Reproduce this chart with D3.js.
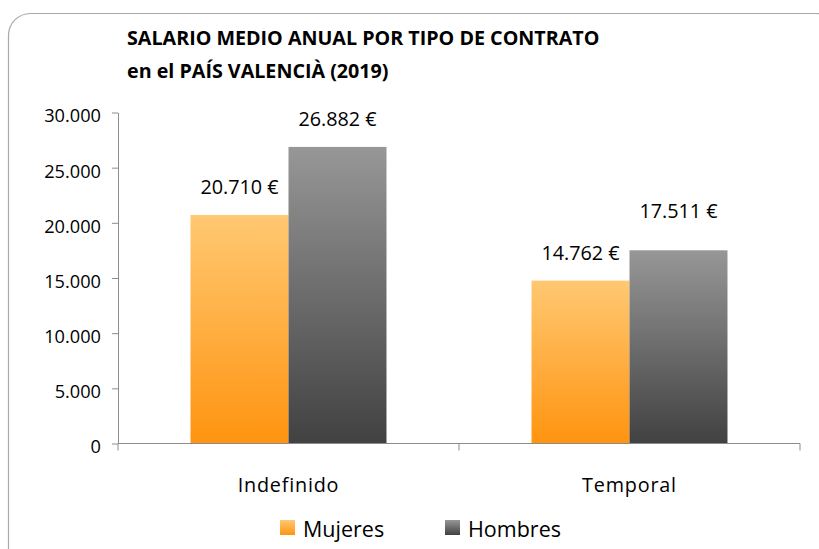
<!DOCTYPE html>
<html>
<head>
<meta charset="utf-8">
<script src="https://cdn.jsdelivr.net/npm/d3@7/dist/d3.min.js"></script>
<style>
  html, body { margin: 0; padding: 0; background: #fff; }
  svg { display: block; font-family: "Open Sans", "Noto Sans", sans-serif; }
</style>
</head>
<body>
<svg id="chart" width="819" height="549"></svg>
<script>
// ---- data ----
const categories = ['Indefinido', 'Temporal'];
const series = ['Mujeres', 'Hombres'];
const mujeres = [20710, 14762];
const hombres = [26882, 17511];
const yTicks = [0, 5000, 10000, 15000, 20000, 25000, 30000];
const titleLines = ['SALARIO MEDIO ANUAL POR TIPO DE CONTRATO', 'en el PAÍS VALENCIÀ (2019)'];

// ---- layout ----
const W = 819, H = 549;
const plot = { left: 118, right: 800, top: 112.5, bottom: 443.5 };
// Excel nudged one label higher than the others
const labelLift = { 'Temporal|Hombres': 12 };

const svg = d3.select('#chart');
const fmt = d3.formatLocale({ decimal: ',', thousands: '.', grouping: [3], currency: ['', ' €'] });
const fmtNum = fmt.format(',d');

const defs = svg.append('defs');
const gradients = {
  Mujeres: ['#ffc872', '#ff9410'],
  Hombres: ['#979797', '#414141'],
};
Object.entries(gradients).forEach(([name, [top, bottom]]) => {
  const g = defs.append('linearGradient')
    .attr('id', 'grad-' + name)
    .attr('x1', 0).attr('y1', 0).attr('x2', 0).attr('y2', 1);
  g.append('stop').attr('offset', '0%').attr('stop-color', top);
  g.append('stop').attr('offset', '100%').attr('stop-color', bottom);
});

// outer rounded frame
svg.append('rect')
  .attr('x', 8.5).attr('y', 13.5)
  .attr('width', 830).attr('height', 560)
  .attr('rx', 22).attr('ry', 22)
  .attr('fill', 'none')
  .attr('stroke', '#a9a9a9').attr('stroke-width', 1.2);

// title
svg.append('g').selectAll('text')
  .data(titleLines)
  .enter().append('text')
  .attr('x', 127)
  .attr('y', (d, i) => 45 + i * 32.5)
  .attr('font-size', '19.7px')
  .attr('font-weight', 700)
  .attr('fill', '#000')
  .text(d => d);

// scales
const x0 = d3.scaleBand().domain(categories).range([plot.left, plot.right]).padding(0);
const x1 = d3.scaleBand().domain(series).range([0, x0.bandwidth()]).paddingInner(0).paddingOuter(0.74);
const y = d3.scaleLinear().domain([0, 30000]).range([plot.bottom, plot.top]);

const rows = categories.map((c, i) => ({ category: c, Mujeres: mujeres[i], Hombres: hombres[i] }));

// y axis
const yAxis = svg.append('g')
  .attr('transform', `translate(${plot.left},0)`)
  .call(d3.axisLeft(y).tickValues(yTicks).tickSize(6).tickSizeOuter(0).tickPadding(11).tickFormat(d => fmtNum(d)));
yAxis.select('.domain').attr('stroke', '#8c8c8c');
yAxis.selectAll('.tick line').attr('stroke', '#8c8c8c');
yAxis.selectAll('.tick text')
  .attr('font-size', '18.2px')
  .attr('font-family', '"Open Sans", sans-serif')
  .attr('fill', '#000')
  .attr('dy', '0.52em');

// bars
const groups = svg.append('g').selectAll('g')
  .data(rows)
  .enter().append('g')
  .attr('transform', d => `translate(${x0(d.category)},0)`);

groups.selectAll('rect')
  .data(d => series.map(s => ({ category: d.category, key: s, value: d[s] })))
  .enter().append('rect')
  .attr('x', d => x1(d.key))
  .attr('y', d => y(d.value))
  .attr('width', x1.bandwidth())
  .attr('height', d => y(0) - y(d.value))
  .attr('fill', d => `url(#grad-${d.key})`);

groups.selectAll('text.val')
  .data(d => series.map(s => ({ category: d.category, key: s, value: d[s] })))
  .enter().append('text')
  .attr('class', 'val')
  .attr('x', d => x1(d.key) + x1.bandwidth() / 2)
  .attr('y', d => y(d.value) - 20.5 - (labelLift[d.category + '|' + d.key] || 0))
  .attr('text-anchor', 'middle')
  .attr('font-size', '19.8px')
  .attr('fill', '#000')
  .text(d => fmtNum(d.value) + ' €');

// x axis (ticks at category boundaries)
const xAxis = svg.append('g');
xAxis.append('line')
  .attr('x1', plot.left).attr('x2', plot.right)
  .attr('y1', plot.bottom).attr('y2', plot.bottom)
  .attr('stroke', '#8c8c8c');
const bounds = categories.map(c => x0(c)).concat([plot.right]);
xAxis.selectAll('line.tk')
  .data(bounds)
  .enter().append('line')
  .attr('class', 'tk')
  .attr('x1', d => d).attr('x2', d => d)
  .attr('y1', plot.bottom).attr('y2', plot.bottom + 7)
  .attr('stroke', '#8c8c8c');
xAxis.selectAll('text')
  .data(categories)
  .enter().append('text')
  .attr('x', d => x0(d) + x0.bandwidth() / 2)
  .attr('y', 491.5)
  .attr('text-anchor', 'middle')
  .attr('font-size', '19.8px')
  .attr('letter-spacing', '0.8px')
  .attr('fill', '#000')
  .text(d => d);

// legend
const legendX = [280, 445];
const legend = svg.append('g').selectAll('g')
  .data(series)
  .enter().append('g')
  .attr('transform', (d, i) => `translate(${legendX[i]},520)`);
legend.append('rect')
  .attr('width', 15).attr('height', 15)
  .attr('fill', d => `url(#grad-${d})`);
legend.append('text')
  .attr('x', 23).attr('y', 16.5)
  .attr('font-size', '21.5px')
  .attr('fill', '#000')
  .text(d => d);
</script>
</body>
</html>
